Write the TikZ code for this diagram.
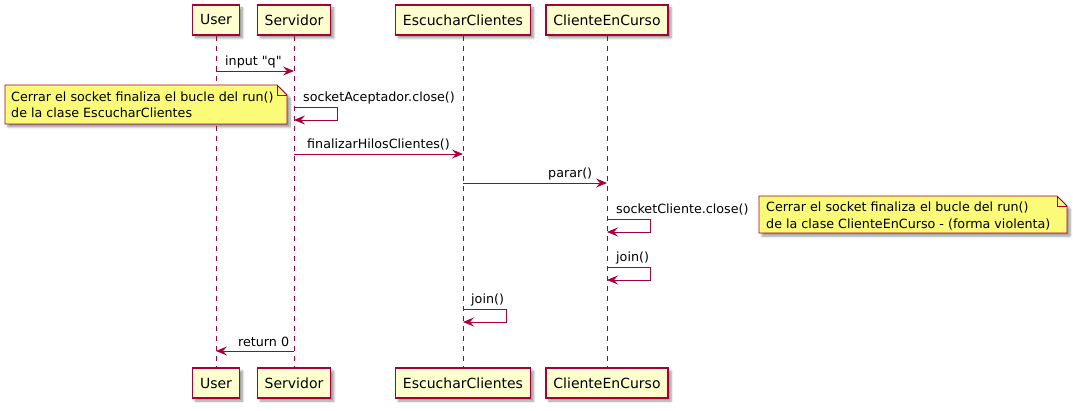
\documentclass[tikz,border=0pt]{standalone}
\usepackage{fontspec}
\setmainfont{DejaVu Sans}
\usetikzlibrary{arrows.meta, shadows.blur}

\definecolor{pborder}{HTML}{A80036}
\definecolor{pfill}{HTML}{FEFECE}
\definecolor{nfill}{HTML}{FBFB77}

\tikzset{
  part/.style={draw=pborder, line width=1.3pt, fill=pfill, minimum height=30pt, inner xsep=7.5pt,
    font=\fontsize{14}{17}\selectfont,
    blur shadow={shadow xshift=3pt, shadow yshift=-3pt, shadow blur steps=6, shadow opacity=40}},
  life/.style={pborder, line width=0.8pt, dash pattern=on 5pt off 5pt},
  msg/.style={pborder, line width=0.9pt, -{Stealth[length=11pt, width=9pt, inset=4pt]}},
  lbl/.style={anchor=base west, inner sep=0pt, font=\fontsize{12.7}{16.5}\selectfont},
  notebg/.style={draw=pborder, line width=0.9pt, fill=nfill,
    blur shadow={shadow xshift=3pt, shadow yshift=-3pt, shadow blur steps=6, shadow opacity=40}},
  notetext/.style={anchor=west, inner sep=0pt, align=left, font=\fontsize{12.7}{16.5}\selectfont}
}

\begin{document}
\begin{tikzpicture}[x=1pt, y=-1pt]
    \useasboundingbox (0,0) rectangle (1073,411);

    \node[part] (usr) at (216,20) {User};
    \node[part] (srv) at (294,20) {Servidor};
    \node[part] (esc) at (463,20) {EscucharClientes};
    \node[part] (cli) at (607,20) {ClienteEnCurso};
    \node[part] (usrB) at (216,383) {User};
    \node[part] (srvB) at (294,383) {Servidor};
    \node[part] (escB) at (463,383) {EscucharClientes};
    \node[part] (cliB) at (607,383) {ClienteEnCurso};

    \draw[life] (usr) -- (usrB);
    \draw[life] (srv) -- (srvB);
    \draw[life] (esc) -- (escB);
    \draw[life] (cli) -- (cliB);

    \coordinate (r1) at (0,71);
    \coordinate (r2) at (0,107);
    \coordinate (r3) at (0,154);
    \coordinate (r4) at (0,183);
    \coordinate (r5) at (0,219);
    \coordinate (r6) at (0,267);
    \coordinate (r7) at (0,309);
    \coordinate (r8) at (0,351);

    \draw[msg] (usr |- r1) -- (srv |- r1);
    \node[lbl] (l1) at (225,66) {input \textquotedbl q\textquotedbl};

    \draw[msg] (srv |- r2) -- ++(43,0) -- ++(0,13) -- ++(-43,0);
    \node[lbl] (l2) at (303,102) {socketAceptador.close()};

    \draw[msg] (srv |- r3) -- (esc |- r3);
    \node[lbl] (l3) at (307,149) {finalizarHilosClientes()};

    \draw[msg] (esc |- r4) -- (cli |- r4);
    \node[lbl] (l4) at (548,178) {parar()};

    \draw[msg] (cli |- r5) -- ++(43,0) -- ++(0,13) -- ++(-43,0);
    \node[lbl] (l5) at (616,214) {socketCliente.close()};

    \draw[msg] (cli |- r6) -- ++(43,0) -- ++(0,13) -- ++(-43,0);
    \node[lbl] (l6) at (616,262) {join()};

    \draw[msg] (esc |- r7) -- ++(43,0) -- ++(0,13) -- ++(-43,0);
    \node[lbl] (l7) at (471,304) {join()};

    \draw[msg] (srv |- r8) -- (usr |- r8);
    \node[lbl] (l8) at (238,346) {return 0};

    \coordinate (nA) at (5,85);
    \coordinate (nB) at (287,124);
    \filldraw[notebg] (nA) -- ([xshift=-10pt]nA -| nB) -- ([yshift=-10pt]nA -| nB) -- (nB) -- (nA |- nB) -- cycle;
    \draw[pborder, line width=0.9pt] ([xshift=-10pt]nA -| nB) -- ++(0,10) -- ++(10,0);
    \node[notetext] (noteA) at (11,105) {Cerrar el socket finaliza el bucle del run()\\de la clase EscucharClientes};

    \coordinate (nC) at (759,196);
    \coordinate (nD) at (1067,233);
    \filldraw[notebg] (nC) -- ([xshift=-10pt]nC -| nD) -- ([yshift=-10pt]nC -| nD) -- (nD) -- (nC |- nD) -- cycle;
    \draw[pborder, line width=0.9pt] ([xshift=-10pt]nC -| nD) -- ++(0,10) -- ++(10,0);
    \node[notetext] (noteB) at (766,216) {Cerrar el socket finaliza el bucle del run()\\de la clase ClienteEnCurso - (forma violenta)};
\end{tikzpicture}
\end{document}
